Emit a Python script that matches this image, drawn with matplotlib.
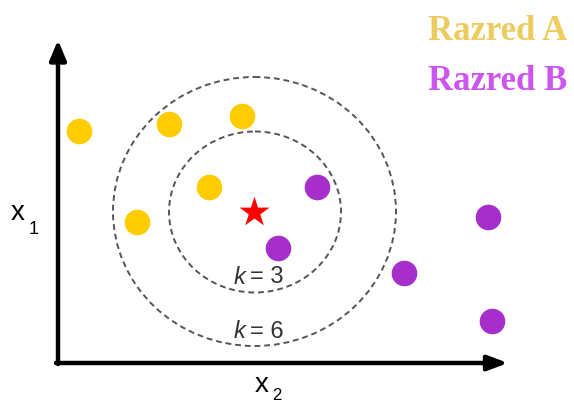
import numpy as np
import matplotlib
matplotlib.use("Agg")
import matplotlib.pyplot as plt
from matplotlib.patches import Ellipse

# data (picture coordinates, y grows downward)
class_a_x = [79, 169, 242, 209, 137]
class_a_y = [131, 124, 116, 187, 222]
class_b_x = [317, 278, 404, 488, 492]
class_b_y = [187, 248, 273, 217, 321]
query_x, query_y = 254, 212
k_labels = ["k = 3", "k = 6"]

fig = plt.figure(figsize=(5.74, 4.03), dpi=100)
ax = fig.add_axes([0, 0, 1, 1])
ax.set_xlim(0, 574)
ax.set_ylim(403, 0)
ax.axis("off")

# axes arrows
ax.annotate("", xy=(58, 40), xytext=(58, 364),
            arrowprops=dict(arrowstyle="-|>,head_length=1.2,head_width=0.5", lw=3.2, color="black",
                            shrinkA=0, shrinkB=0))
ax.annotate("", xy=(508, 363), xytext=(56, 363),
            arrowprops=dict(arrowstyle="-|>,head_length=1.2,head_width=0.45", lw=3.2, color="black",
                            shrinkA=0, shrinkB=0))

# neighbourhood circles
ax.add_patch(Ellipse((255, 212), 172, 161, fill=False, ls=(0, (3, 2)), lw=1.4, ec="#555555"))
ax.add_patch(Ellipse((254.5, 211.5), 283, 269, fill=False, ls=(0, (3, 2)), lw=1.4, ec="#555555"))

ax.scatter(class_a_x, class_a_y, s=340, color="#FFCC00", zorder=3, lw=0)
ax.scatter(class_b_x, class_b_y, s=340, color="#A62FCC", zorder=3, lw=0)
ax.scatter([query_x], [query_y], marker="*", s=520, color="#FF0000", zorder=4, lw=0)

for lbl, ty in zip(k_labels, [277, 332]):
    k, rest = lbl.split(" ", 1)
    ax.text(245, ty, k, fontsize=17, ha="right", va="center", color="#333333",
            family="Liberation Sans", style="italic")
    ax.text(250, ty, rest, fontsize=17, ha="left", va="center", color="#333333",
            family="Liberation Sans")

# axis labels
ax.text(18, 213, "x", fontsize=20, ha="center", va="center", family="Liberation Sans")
ax.text(34, 229, "1", fontsize=13, ha="center", va="center", family="Liberation Sans")
ax.text(262, 385, "x", fontsize=20, ha="center", va="center", family="Liberation Sans")
ax.text(277, 395, "2", fontsize=12, ha="center", va="center", family="Liberation Sans")

# legend
ax.text(567, 31, "Razred A", fontsize=25, ha="right", va="center", fontweight="bold",
        family="Liberation Serif", color="#EDCB5F")
ax.text(567, 81, "Razred B", fontsize=25, ha="right", va="center", fontweight="bold",
        family="Liberation Serif", color="#CC55EE")

fig.savefig("out.png", dpi=100)
